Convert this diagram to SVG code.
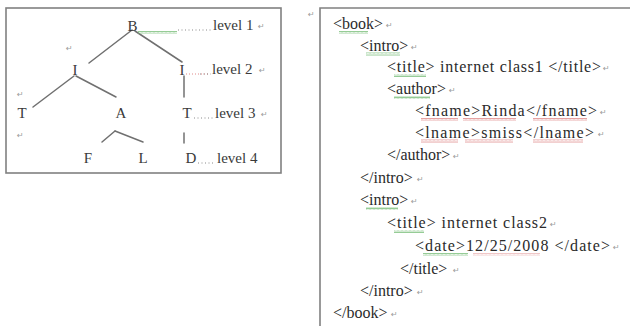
<svg xmlns="http://www.w3.org/2000/svg" width="630" height="326" viewBox="0 0 630 326">
  <defs>
    <style>
      .frame { fill: none; stroke: #808080; stroke-width: 1.6; }
      .edge { stroke: #707070; stroke-width: 1.5; fill: none; stroke-linecap: round; }
      .node { font-family: "Liberation Serif", "Times New Roman", serif; font-size: 15px; fill: #3a3a3a; }
      .lvl { font-family: "Liberation Serif", "Times New Roman", serif; font-size: 15px; fill: #3a3a3a; }
      .leader { stroke: #8a8a8a; stroke-width: 1; stroke-dasharray: 1 2.5; fill: none; }
      .code { font-family: "Liberation Serif", "Times New Roman", serif; font-size: 16px; fill: #2a2a2a; }
      .pm { font-family: "DejaVu Sans", sans-serif; font-size: 8px; fill: #9a9a9a; }
    </style>
    <pattern id="wavyGreen" width="4" height="3" patternUnits="userSpaceOnUse">
      <path d="M0 2.5 L1 0.5 L2 2.5 L3 0.5 L4 2.5" fill="none" stroke="#7bbf7b" stroke-width="0.8"/>
    </pattern>
    <pattern id="wavyRed" width="4" height="3" patternUnits="userSpaceOnUse">
      <path d="M0 2.5 L1 0.5 L2 2.5 L3 0.5 L4 2.5" fill="none" stroke="#e08a8a" stroke-width="0.8"/>
    </pattern>
  </defs>

  <rect width="630" height="326" fill="#ffffff"/>

  <!-- tree panel -->
  <rect class="frame" x="6" y="8" width="275" height="165"/>

  <g id="connectors">
    <line class="edge" x1="132" y1="30" x2="89" y2="63"/>
    <line class="edge" x1="135" y1="31" x2="182" y2="62"/>
    <line class="edge" x1="184" y1="76" x2="184" y2="97"/>
    <line class="edge" x1="74" y1="76" x2="33" y2="107"/>
    <line class="edge" x1="76" y1="76" x2="116" y2="97"/>
    <line class="edge" x1="102" y1="142" x2="115" y2="131"/>
    <line class="edge" x1="115" y1="131" x2="143" y2="142"/>
    <line class="edge" x1="184" y1="133" x2="184" y2="143"/>
  </g>

  <g id="node-B"><text class="node" x="132.5" y="31" text-anchor="middle">B</text></g>
  <g id="node-I-left"><text class="node" x="75" y="75" text-anchor="middle">I</text></g>
  <g id="node-I-right"><text class="node" x="182" y="75" text-anchor="middle">I</text></g>
  <g id="node-T-left"><text class="node" x="22" y="118" text-anchor="middle">T</text></g>
  <g id="node-A"><text class="node" x="121" y="118" text-anchor="middle">A</text></g>
  <g id="node-T-right"><text class="node" x="187" y="118" text-anchor="middle">T</text></g>
  <g id="node-F"><text class="node" x="88" y="163" text-anchor="middle">F</text></g>
  <g id="node-L"><text class="node" x="143" y="163" text-anchor="middle">L</text></g>
  <g id="node-D"><text class="node" x="191" y="163" text-anchor="middle">D</text></g>

  <!-- level labels with dotted leaders -->
  <g id="levels">
    <rect x="138" y="31" width="39" height="3" fill="url(#wavyGreen)"/>
    <line class="leader" x1="178" y1="30" x2="212" y2="30"/>
    <text class="lvl" x="213" y="30">level 1</text>
    <line x1="186" y1="74" x2="209" y2="74" stroke="#e08a8a" stroke-width="1" stroke-dasharray="1 2"/>
    <line class="leader" x1="200" y1="74" x2="211" y2="74"/>
    <text class="lvl" x="212" y="74">level 2</text>
    <line class="leader" x1="194" y1="118" x2="213" y2="118"/>
    <text class="lvl" x="215" y="118">level 3</text>
    <line class="leader" x1="198" y1="163" x2="215" y2="163"/>
    <text class="lvl" x="217" y="163">level 4</text>
  </g>

  <!-- paragraph marks in the tree panel -->
  <g id="tree-marks">
    <text class="pm" x="258" y="29">↵</text>
    <text class="pm" x="259" y="73">↵</text>
    <text class="pm" x="261" y="117">↵</text>
    <text class="pm" x="66" y="51">↵</text>
    <text class="pm" x="17" y="97">↵</text>
    <text class="pm" x="17" y="138">↵</text>
  </g>

  <!-- XML listing panel -->
  <path class="frame" d="M320 326 V8 H630" stroke-width="2"/>
  <text class="pm" x="308" y="17">↵</text>

  <g id="xml-squiggles">
    <rect x="339" y="31" width="29" height="3" fill="url(#wavyGreen)"/>
    <rect x="366" y="52.5" width="34" height="3" fill="url(#wavyGreen)"/>
    <rect x="394" y="74" width="32" height="3" fill="url(#wavyGreen)"/>
    <rect x="394" y="96" width="36" height="3" fill="url(#wavyGreen)"/>
    <rect x="421" y="118" width="37" height="3" fill="url(#wavyRed)"/>
    <rect x="463" y="118" width="53" height="3" fill="url(#wavyRed)"/>
    <rect x="533" y="118" width="54" height="3" fill="url(#wavyRed)"/>
    <rect x="421" y="139.5" width="37" height="3" fill="url(#wavyRed)"/>
    <rect x="465" y="139.5" width="48" height="3" fill="url(#wavyRed)"/>
    <rect x="533" y="139.5" width="50" height="3" fill="url(#wavyRed)"/>
    <rect x="366" y="207" width="32" height="3" fill="url(#wavyGreen)"/>
    <rect x="394" y="230" width="30" height="3" fill="url(#wavyGreen)"/>
    <rect x="423" y="253" width="45" height="3" fill="url(#wavyGreen)"/>
    <rect x="473" y="253" width="67" height="3" fill="url(#wavyRed)" opacity="0.6"/>
  </g>

  <g id="xml-lines">
    <text class="code" x="333" y="29">&lt;book&gt;</text><text class="pm" x="386" y="28">↵</text>
    <text class="code" x="360" y="50.5">&lt;intro&gt;</text><text class="pm" x="411" y="49.5">↵</text>
    <text class="code" x="387" y="72" textLength="214" lengthAdjust="spacing">&lt;title&gt; internet class1 &lt;/title&gt;</text><text class="pm" x="603" y="71">↵</text>
    <text class="code" x="387" y="94">&lt;author&gt;</text><text class="pm" x="449" y="93">↵</text>
    <text class="code" x="415" y="116" textLength="182" lengthAdjust="spacing">&lt;fname&gt;Rinda&lt;/fname&gt;</text><text class="pm" x="600" y="115">↵</text>
    <text class="code" x="415" y="137.5" textLength="179" lengthAdjust="spacing">&lt;lname&gt;smiss&lt;/lname&gt;</text><text class="pm" x="598" y="136.5">↵</text>
    <text class="code" x="387" y="159.5">&lt;/author&gt;</text><text class="pm" x="453" y="158.5">↵</text>
    <text class="code" x="360" y="183">&lt;/intro&gt;</text><text class="pm" x="417" y="182">↵</text>
    <text class="code" x="360" y="205">&lt;intro&gt;</text><text class="pm" x="411" y="204">↵</text>
    <text class="code" x="387" y="228" textLength="160" lengthAdjust="spacing">&lt;title&gt; internet class2</text><text class="pm" x="550" y="227">↵</text>
    <text class="code" x="415" y="251" textLength="195" lengthAdjust="spacing">&lt;date&gt;12/25/2008 &lt;/date&gt;</text><text class="pm" x="613" y="250">↵</text>
    <text class="code" x="400" y="274">&lt;/title&gt;</text><text class="pm" x="453" y="273">↵</text>
    <text class="code" x="360" y="296">&lt;/intro&gt;</text><text class="pm" x="417" y="295">↵</text>
    <text class="code" x="333" y="318">&lt;/book&gt;</text><text class="pm" x="391" y="317">↵</text>
  </g>
</svg>
